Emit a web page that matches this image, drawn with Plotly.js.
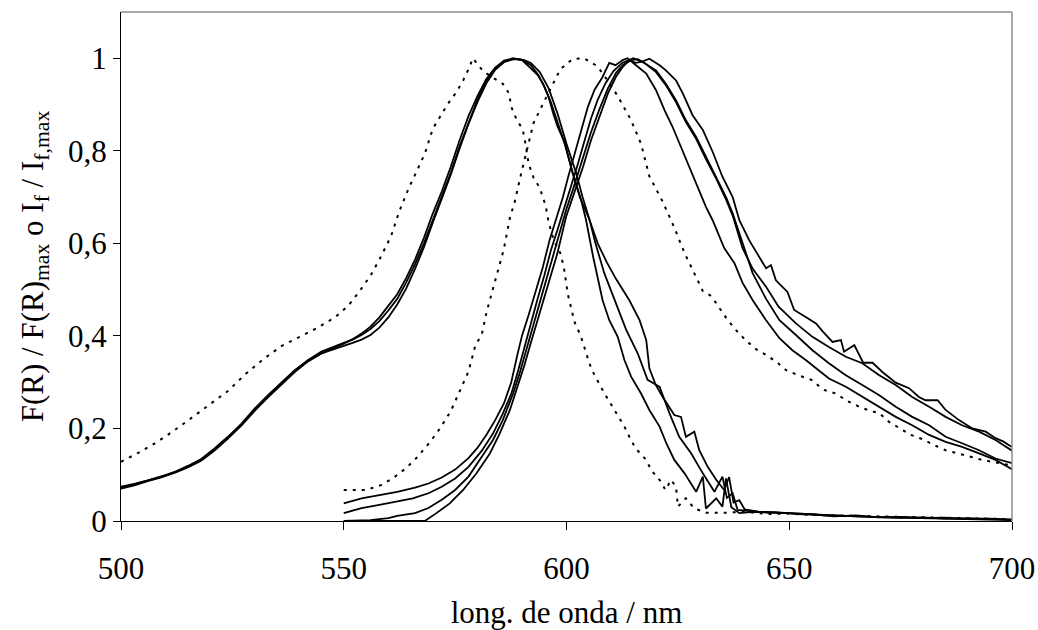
<!DOCTYPE html>
<html>
<head>
<meta charset="utf-8">
<script src="https://cdn.plot.ly/plotly-3.0.1.min.js"></script>
<style>html,body{margin:0;padding:0;background:#fff;}#chart{width:1038px;height:630px;}</style>
</head>
<body>
<div id="chart"></div>
<script>
// ---- Data ----
const xTickVals = [500, 550, 600, 650, 700];
const yTickVals = [0, 0.2, 0.4, 0.6, 0.8, 1];
const yTickText = ['0', '0,2', '0,4', '0,6', '0,8', '1'];

// Dotted absorption (F(R)/F(R)max, reference)
const absDotX = [500,504,508,512,516,520,524,528,532,536,540,544,548,551,553.5,556,558,560.6,562.5,564.7,566,568.2,570,571.9,573.4,575.3,576.8,577.9,579,580.5,581.6,583.5,585.7,587.1,587.6,588.7,590.2,590.7,591.2,591.5,592.6,594,595.3,596,597.1,598.6,599.4,600.3,601.8,603.2,604.8,605.7,608.5,610,613,614.1,615.5,617.9,619,621.2,622.2,623.5,624.6,625,626.8,628.7,631.3,636,640,645,650,655,660,665,670,675,680,685,690,695,700];
const absDotY = [0.128,0.148,0.170,0.196,0.224,0.252,0.281,0.318,0.350,0.378,0.398,0.417,0.440,0.465,0.496,0.530,0.565,0.615,0.670,0.722,0.748,0.794,0.848,0.877,0.902,0.927,0.952,0.974,1.0,0.981,0.970,0.958,0.945,0.924,0.895,0.870,0.845,0.820,0.790,0.772,0.742,0.720,0.682,0.645,0.608,0.579,0.549,0.490,0.430,0.400,0.351,0.326,0.276,0.251,0.204,0.182,0.157,0.132,0.110,0.085,0.067,0.089,0.073,0.031,0.049,0.027,0.018,0.018,0.020,0.015,0.016,0.013,0.012,0.010,0.010,0.008,0.007,0.006,0.005,0.004,0.004];

// Dotted emission (If/If,max, reference)
const emDotX = [550,552,555,558.5,561.1,564.1,566.4,569.4,571.6,574,576.1,578,579.5,581,582.1,583.6,585.9,587.4,588.3,589.6,591.1,592.6,594.9,596.8,598.6,601.3,603.9,606.9,609,611.4,614.4,616.7,618.6,621.6,624.2,626.5,628.3,630.6,632.5,634.4,636.2,638.1,640.4,642.6,645.3,647.5,649.3,652,655,657.6,660.6,662.7,665.7,667.6,670.2,672.4,674.7,677.3,679.9,682.5,685.1,688.1,690.7,693.3,696,700];
const emDotY = [0.067,0.067,0.067,0.078,0.093,0.115,0.137,0.171,0.200,0.237,0.282,0.323,0.378,0.404,0.453,0.504,0.586,0.660,0.686,0.742,0.801,0.860,0.905,0.942,0.976,0.998,1.0,0.983,0.955,0.920,0.868,0.816,0.745,0.690,0.634,0.579,0.542,0.497,0.486,0.460,0.434,0.412,0.389,0.371,0.356,0.341,0.326,0.315,0.305,0.284,0.275,0.261,0.247,0.240,0.233,0.214,0.200,0.186,0.177,0.164,0.153,0.146,0.139,0.132,0.127,0.120];

// Solid absorption spectra (3 samples)
const abs1X = [500,503,506,509,512,515,518,521,524,527,530,533,536,539,542,545,548,550,552,554,556,558,560,562,564,566,568,570,572,574,576,578,580,582,584,586,588,590,591.7,593.6,594.7,596,597,598,599.6,601.4,603.3,604.4,606,608.1,609.6,611.5,613,614.5,616.7,618.6,620.9,622.4,624.2,626.5,629.1,630.6,631.3,633.6,635,635.8,637,638.8,642,646,650,655,660,665,670,675,680,685,690,695,700];
const abs1Y = [0.074,0.080,0.088,0.096,0.105,0.117,0.132,0.155,0.180,0.207,0.240,0.268,0.296,0.322,0.345,0.362,0.375,0.383,0.393,0.405,0.420,0.440,0.465,0.490,0.525,0.565,0.612,0.665,0.712,0.765,0.823,0.875,0.918,0.955,0.980,0.995,1.0,0.996,0.981,0.963,0.945,0.916,0.881,0.852,0.818,0.751,0.693,0.650,0.570,0.477,0.434,0.398,0.348,0.312,0.276,0.240,0.204,0.168,0.132,0.103,0.063,0.096,0.027,0.049,0.031,0.092,0.030,0.017,0.020,0.018,0.016,0.015,0.010,0.012,0.008,0.009,0.006,0.007,0.004,0.005,0.003];

const abs2X = [500,503,506,509,512,515,518,521,524,527,530,533,536,539,542,545,548,550,552,554,556,558,560,562,564,566,568,570,572,574,576,578,580,582,584,586,588,590,592,593.6,595,596.5,598,599.6,601.4,603,605.2,606.5,608.5,610.8,613.4,616,618.2,620.9,623.1,625.3,628,630.6,633.2,635,636,637.3,638.4,641,645,650,655,660,665,670,675,680,685,690,695,700];
const abs2Y = [0.070,0.077,0.086,0.094,0.104,0.116,0.130,0.152,0.178,0.206,0.238,0.268,0.298,0.325,0.348,0.366,0.378,0.385,0.392,0.402,0.415,0.432,0.455,0.480,0.515,0.555,0.600,0.652,0.700,0.752,0.810,0.862,0.910,0.950,0.978,0.993,0.998,0.997,0.985,0.965,0.940,0.905,0.862,0.815,0.752,0.700,0.650,0.600,0.535,0.477,0.413,0.362,0.305,0.290,0.233,0.182,0.146,0.103,0.063,0.096,0.050,0.060,0.024,0.022,0.018,0.017,0.014,0.012,0.010,0.009,0.007,0.008,0.005,0.006,0.004,0.003];

const abs3X = [500,503,506,509,512,515,518,521,524,527,530,533,536,539,542,545,548,550,552,554,556,558,560,562,564,566,568,570,572,574,576,578,580,582,584,586,588.5,590.5,592,594,596,598,600,602.2,603.6,605.2,607,609,611,613,614.1,616.4,617.9,618.6,620,621.6,624.2,625.7,626.8,628.7,629.8,631.7,633.6,635.4,636.5,637.5,638.8,640,643,647,652,657,662,667,672,677,682,687,692,696,700];
const abs3Y = [0.072,0.079,0.087,0.095,0.106,0.119,0.134,0.157,0.182,0.210,0.243,0.272,0.300,0.326,0.347,0.362,0.372,0.378,0.385,0.392,0.402,0.418,0.440,0.468,0.502,0.545,0.592,0.645,0.695,0.748,0.805,0.858,0.905,0.946,0.975,0.992,0.999,0.996,0.990,0.970,0.935,0.880,0.815,0.751,0.700,0.650,0.600,0.560,0.525,0.495,0.477,0.434,0.391,0.330,0.295,0.268,0.229,0.225,0.182,0.193,0.153,0.117,0.089,0.067,0.095,0.040,0.045,0.025,0.020,0.019,0.015,0.013,0.011,0.010,0.008,0.007,0.006,0.005,0.004,0.003,0.002];

// Solid emission spectra (4 samples)
const em1X = [550,554,558,562,566,569,572,575,578,580,582,584,586,587.6,589,590,591.5,593,594.7,596.2,597.7,599.2,600.5,602,603.3,604.8,606.3,608,609.6,611,612.6,613.7,615.6,617.9,620.1,622,623.8,625.7,627.6,629.4,631.3,632.8,635.4,637.7,639.5,641.8,644.8,647.8,650.7,653.7,656,658.9,662.7,666.4,670.2,673.9,677.6,681.4,685.1,688.8,692.6,696.3,700];
const em1Y = [0.038,0.049,0.056,0.063,0.072,0.081,0.094,0.111,0.136,0.158,0.186,0.218,0.255,0.300,0.360,0.400,0.445,0.495,0.549,0.607,0.652,0.700,0.748,0.800,0.845,0.895,0.932,0.958,0.990,0.985,0.996,1.0,0.985,0.967,0.931,0.888,0.852,0.808,0.765,0.722,0.679,0.650,0.590,0.557,0.515,0.477,0.434,0.395,0.369,0.348,0.330,0.308,0.290,0.268,0.247,0.225,0.207,0.186,0.171,0.160,0.146,0.132,0.112];

const em2X = [550,554,558,562,565.5,569,572,575,578,581,583.5,585.7,587.6,589,590.5,592,593.5,595,596.5,598,599.5,601,602.5,604,605.5,607,608.7,610.5,612.5,615,617.1,620.1,622.3,624.6,626.8,629.1,631.3,633.6,635.8,637.3,639.5,641.8,644.8,647.8,651.5,655.2,658.9,662.7,666.4,670.2,673.9,677.6,681.4,685.1,688.8,692.6,696.3,700];
const em2Y = [0.017,0.028,0.035,0.042,0.049,0.060,0.074,0.092,0.117,0.152,0.189,0.232,0.275,0.320,0.375,0.430,0.480,0.530,0.585,0.630,0.675,0.720,0.770,0.820,0.870,0.910,0.945,0.972,0.990,1.0,0.992,0.974,0.945,0.909,0.866,0.830,0.787,0.744,0.700,0.665,0.600,0.535,0.480,0.434,0.402,0.369,0.341,0.315,0.294,0.272,0.247,0.225,0.207,0.182,0.168,0.153,0.135,0.125];

const em3X = [550,556,560,562,566,569,572,575,578,581,583.5,585.7,588,589.5,591,592.5,594,595.5,597,598.5,600,601.4,603.7,605.5,607.4,609.3,611.1,612.6,614.5,616,617.5,620.1,622.3,624.6,626.8,629.1,631.3,633.6,635.8,637.3,639.5,641.8,644.8,647.6,651.5,655.2,658.9,662.7,666.4,670.2,673.9,677.6,681.4,685.1,688.8,692.6,696.3,700];
const em3Y = [0.0,0.002,0.006,0.011,0.017,0.028,0.046,0.067,0.096,0.139,0.175,0.218,0.275,0.320,0.370,0.420,0.470,0.520,0.570,0.620,0.675,0.715,0.785,0.840,0.890,0.935,0.968,0.985,0.996,0.998,0.990,0.970,0.942,0.905,0.862,0.826,0.782,0.740,0.695,0.660,0.590,0.545,0.506,0.463,0.427,0.398,0.376,0.355,0.341,0.315,0.294,0.268,0.247,0.225,0.207,0.193,0.175,0.152];

const em4X = [550,560,568.2,570.8,573.8,576.8,579.8,582.8,585,587.3,589.1,590.5,592,593.5,595,596.5,598,599.9,601.4,603.7,605.5,607.4,609.3,611.1,612.6,614.1,615.5,617,618.6,620.9,622.3,624.6,626.1,628.3,630.6,632.8,634.3,635,637.3,638.8,641,643.6,644.8,645.9,647,649.6,651.1,653.7,656,657.5,659.7,661.6,662.3,664.6,666.6,668.7,670.9,673.9,676.9,679.1,680.6,683.3,685.1,688.1,691.1,694.1,696.3,698,700];
const em4Y = [0.0,0.0,0.0,0.017,0.038,0.067,0.103,0.146,0.189,0.240,0.291,0.335,0.385,0.435,0.480,0.530,0.580,0.657,0.700,0.765,0.823,0.873,0.924,0.960,0.981,0.996,0.990,0.993,0.999,0.985,0.974,0.952,0.924,0.877,0.845,0.798,0.760,0.744,0.700,0.650,0.607,0.564,0.546,0.553,0.520,0.495,0.456,0.441,0.427,0.410,0.387,0.391,0.366,0.380,0.342,0.342,0.322,0.299,0.287,0.268,0.261,0.261,0.240,0.218,0.200,0.193,0.179,0.172,0.160];

// ---- Traces ----
const dotLine = {color: '#000', width: 2, dash: '3px,6px'};
const solidLine = {color: '#000', width: 1.8};
function tr(x, y, line) {
  return {x: x, y: y, type: 'scatter', mode: 'lines', line: line, hoverinfo: 'skip', showlegend: false};
}
const data = [
  tr(absDotX, absDotY, dotLine),
  tr(emDotX, emDotY, dotLine),
  tr(abs1X, abs1Y, solidLine),
  tr(abs2X, abs2Y, solidLine),
  tr(abs3X, abs3Y, solidLine),
  tr(em1X, em1Y, solidLine),
  tr(em2X, em2Y, solidLine),
  tr(em3X, em3Y, solidLine),
  tr(em4X, em4Y, solidLine)
];

const font = {family: 'Liberation Serif, Times New Roman, serif', size: 31, color: '#000'};
const layout = {
  width: 1038, height: 630,
  margin: {l: 121, r: 26, t: 12, b: 109},
  paper_bgcolor: '#fff', plot_bgcolor: '#fff',
  font: font,
  showlegend: false,
  hovermode: false,
  xaxis: {
    range: [500, 700], tickvals: xTickVals, ticktext: xTickVals.map(String),
    showgrid: false, zeroline: false, showline: true, linecolor: '#000', linewidth: 1,
    ticks: 'outside', ticklen: 8, tickcolor: '#000', tickwidth: 1,
    ticklabelstandoff: 12,
    tickfont: font,
    title: {text: 'long. de onda / nm', font: font, standoff: 16}
  },
  yaxis: {
    range: [0, 1.1], tickvals: yTickVals, ticktext: yTickText,
    showgrid: false, zeroline: false, showline: true, linecolor: '#000', linewidth: 1,
    ticks: 'outside', ticklen: 7, tickcolor: '#000', tickwidth: 1,
    tickfont: font,
    title: {text: 'F(R) / F(R)<sub>max</sub> o I<sub>f</sub> / I<sub>f,max</sub>', font: font, standoff: 15}
  },
  shapes: [
    {type: 'line', xref: 'paper', yref: 'paper', x0: 0, x1: 1, y0: 1, y1: 1, line: {color: '#8c8c8c', width: 1.5}},
    {type: 'line', xref: 'paper', yref: 'paper', x0: 1, x1: 1, y0: 0, y1: 1, line: {color: '#8c8c8c', width: 1.5}}
  ]
};
Plotly.newPlot('chart', data, layout, {staticPlot: true, displayModeBar: false});
</script>
</body>
</html>
